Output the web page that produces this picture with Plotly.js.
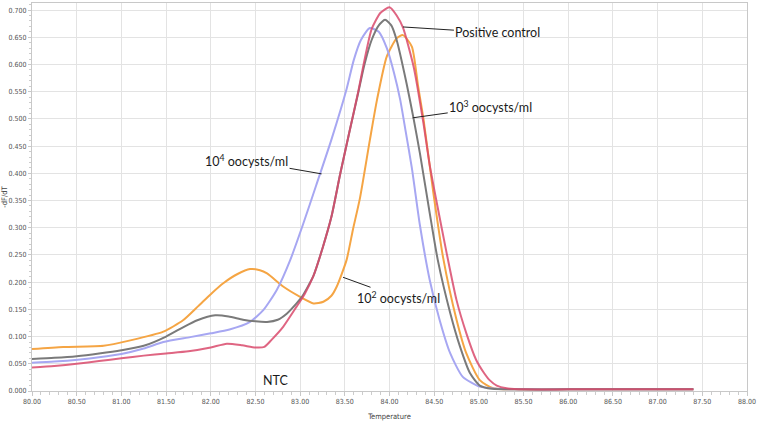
<!DOCTYPE html>
<html>
<head>
<meta charset="utf-8">
<script src="https://cdn.plot.ly/plotly-3.0.1.min.js"></script>
<style>html,body{margin:0;padding:0;background:#fff;}#chart{width:762px;height:426px;}</style>
</head>
<body>
<div id="chart"></div>
<script>
// Positive control (red)
const tempPos = [80.00,80.25,80.50,80.75,81.00,81.25,81.50,81.75,82.00,82.18,82.35,82.50,82.60,82.68,82.81,82.96,83.05,83.15,83.25,83.35,83.45,83.55,83.65,83.72,83.80,83.90,84.00,84.08,84.15,84.27,84.38,84.45,84.53,84.64,84.75,84.86,84.97,85.05,85.12,85.20,85.31,85.50,86.00,86.50,87.00,87.40];
const valPos  = [0.043,0.046,0.050,0.055,0.060,0.065,0.069,0.073,0.080,0.087,0.084,0.080,0.081,0.094,0.118,0.155,0.178,0.212,0.262,0.320,0.400,0.475,0.550,0.608,0.665,0.695,0.705,0.690,0.668,0.596,0.492,0.415,0.345,0.253,0.167,0.106,0.057,0.035,0.020,0.010,0.005,0.003,0.003,0.003,0.003,0.003];

// 10^3 oocysts/ml (gray)
const temp1e3 = [80.00,80.25,80.50,80.75,81.00,81.25,81.50,81.70,81.85,82.05,82.20,82.36,82.50,82.63,82.75,82.85,82.96,83.02,83.15,83.25,83.35,83.45,83.55,83.65,83.72,83.80,83.88,83.95,84.02,84.08,84.19,84.27,84.34,84.45,84.54,84.68,84.79,84.90,85.01,85.15,85.40,86.00,86.50,87.00,87.40];
const val1e3  = [0.059,0.061,0.064,0.069,0.075,0.083,0.100,0.118,0.130,0.139,0.137,0.131,0.128,0.127,0.131,0.142,0.161,0.173,0.212,0.262,0.320,0.400,0.475,0.548,0.600,0.645,0.672,0.682,0.672,0.645,0.566,0.500,0.437,0.327,0.241,0.143,0.081,0.033,0.010,0.004,0.003,0.003,0.003,0.003,0.003];

// 10^4 oocysts/ml (lavender)
const temp1e4 = [80.00,80.25,80.54,80.75,81.00,81.25,81.47,81.77,82.00,82.21,82.44,82.59,82.74,82.89,83.03,83.18,83.35,83.52,83.60,83.68,83.78,83.88,83.97,84.05,84.12,84.18,84.25,84.34,84.45,84.56,84.68,84.82,85.01,85.20,85.50,86.00,86.50,87.00,87.40];
const val1e4  = [0.052,0.054,0.058,0.062,0.068,0.078,0.090,0.099,0.106,0.113,0.127,0.149,0.186,0.241,0.305,0.378,0.462,0.555,0.608,0.645,0.667,0.660,0.630,0.585,0.535,0.478,0.410,0.305,0.204,0.131,0.069,0.026,0.008,0.004,0.003,0.003,0.003,0.003,0.003];

// 10^2 oocysts/ml (orange)
const temp1e2 = [80.00,80.35,80.80,81.10,81.47,81.69,81.86,82.00,82.14,82.30,82.44,82.55,82.63,82.81,83.00,83.15,83.26,83.35,83.41,83.52,83.59,83.67,83.78,83.86,83.97,84.08,84.15,84.25,84.32,84.38,84.49,84.60,84.75,84.86,85.01,85.16,85.40,86.00,86.50,87.00,87.40];
const val1e2  = [0.077,0.081,0.083,0.093,0.109,0.130,0.156,0.178,0.198,0.215,0.224,0.222,0.216,0.192,0.173,0.161,0.164,0.175,0.192,0.241,0.296,0.355,0.461,0.535,0.615,0.648,0.654,0.633,0.560,0.500,0.365,0.245,0.131,0.069,0.020,0.005,0.003,0.003,0.003,0.003,0.003];

const xTickVals = [80,80.5,81,81.5,82,82.5,83,83.5,84,84.5,85,85.5,86,86.5,87,87.5,88];
const yTickVals = [0,0.05,0.1,0.15,0.2,0.25,0.3,0.35,0.4,0.45,0.5,0.55,0.6,0.65,0.7];

function tr(x, y, color, opacity){
  return {x:x, y:y, type:'scatter', mode:'lines', opacity:opacity||1,
    line:{color:color, width:2, shape:'spline', smoothing:0.6}, hoverinfo:'skip'};
}

const data = [
  tr(temp1e2, val1e2, '#f5a544'),
  tr(temp1e4, val1e4, '#a7a7f2'),
  tr(temp1e3, val1e3, '#7a7a7a'),
  tr(tempPos, valPos, '#d94a6c', 0.85)
];

const annFont = {family:'Lato, "Liberation Sans", sans-serif', size:12.5, color:'#1a1a1a'};
function ann(text, x, y, ax, ay){
  return {text:text, x:x, y:y, xref:'x', yref:'y', ax:ax, ay:ay, showarrow:true,
    arrowhead:0, arrowwidth:1, arrowcolor:'#222', standoff:0, font:annFont};
}

const tickFontFam = '"DejaVu Sans Condensed", "DejaVu Sans", sans-serif';

const layout = {
  width:762, height:426,
  margin:{l:32, r:15, t:3, b:35},
  paper_bgcolor:'#fff', plot_bgcolor:'#fff',
  showlegend:false,
  xaxis:{
    range:[80,88], tickvals:xTickVals, tickformat:'.2f',
    showgrid:true, gridcolor:'#e3e3e3', gridwidth:1,
    showline:true, linecolor:'#c8c8c8', linewidth:1, mirror:true,
    ticks:'outside', ticklen:4, tickcolor:'#c8c8c8',
    minor:{dtick:0.1, ticks:'outside', ticklen:3, tickcolor:'#cccccc', showgrid:false},
    tickfont:{family:tickFontFam, size:7, color:'#555'},
    title:{text:'Temperature', font:{family:tickFontFam, size:7.5, color:'#444'}, standoff:8},
    zeroline:false
  },
  yaxis:{
    range:[0,0.713], tickvals:yTickVals, tickformat:'.3f',
    showgrid:true, gridcolor:'#e3e3e3', gridwidth:1,
    showline:true, linecolor:'#c8c8c8', linewidth:1, mirror:true,
    ticks:'outside', ticklen:3, tickcolor:'#c8c8c8',
    minor:{dtick:0.01, ticks:'outside', ticklen:2, tickcolor:'#cccccc', showgrid:false},
    tickfont:{family:tickFontFam, size:7, color:'#555'},
    title:{text:'-dF/dT', font:{family:tickFontFam, size:7.5, color:'#444'}, standoff:3},
    zeroline:false
  },
  annotations:[
    ann('Positive control', 84.15, 0.669, 95, 6),
    ann('10<sup>3</sup> oocysts/ml', 84.26, 0.502, 78, -11),
    ann('10<sup>4</sup> oocysts/ml', 83.24, 0.399, -75, -13),
    ann('10<sup>2</sup> oocysts/ml', 83.48, 0.209, 55, 20),
    {text:'NTC', x:82.73, y:0.020, xref:'x', yref:'y', showarrow:false, font:annFont}
  ]
};

Plotly.newPlot('chart', data, layout, {displayModeBar:false, staticPlot:true});
</script>
</body>
</html>
